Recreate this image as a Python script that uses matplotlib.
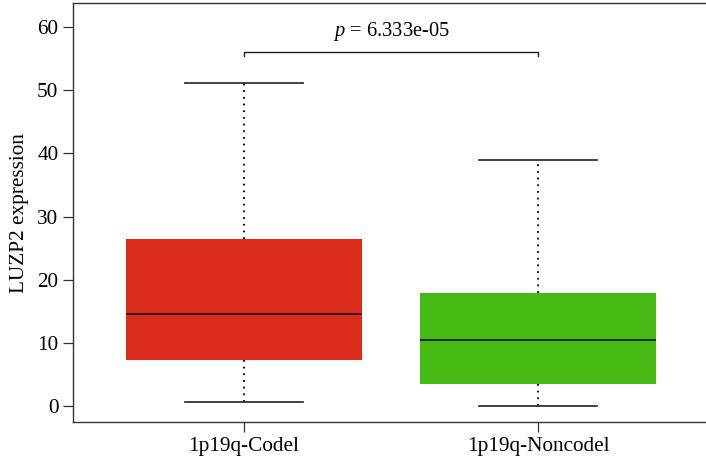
import matplotlib
matplotlib.use("Agg")
import matplotlib.pyplot as plt

plt.rcParams['font.family'] = ['Liberation Serif', 'DejaVu Serif']
plt.rcParams['mathtext.fontset'] = 'custom'
plt.rcParams['mathtext.rm'] = 'Liberation Serif'
plt.rcParams['mathtext.it'] = 'Liberation Serif:italic'

categories = ["1p19q-Codel", "1p19q-Noncodel"]
whisker_low = [0.6, 0.0]
q1 = [7.35, 3.5]
median = [14.6, 10.45]
q3 = [26.45, 17.9]
whisker_high = [51.1, 39.0]
colors = ["#DB2C1B", "#46BA13"]
p_label = "6.333e-05"
ylabel = "LUZP2 expression"
yticks = [0, 10, 20, 30, 40, 50, 60]

fig = plt.figure(figsize=(7.06, 4.62), dpi=100)
ax = fig.add_axes([73/706, 1-422.3/462, (709-73)/706, (422.3-3)/462])

stats = []
for i in range(len(categories)):
    stats.append(dict(med=median[i], q1=q1[i], q3=q3[i],
                      whislo=whisker_low[i], whishi=whisker_high[i],
                      fliers=[], label=categories[i]))

bp = ax.bxp(stats, positions=[1, 2], widths=0.8, patch_artist=True,
            showfliers=False, capwidths=0.4,
            boxprops=dict(linewidth=0),
            medianprops=dict(color="#1a1a1a", linewidth=1.3),
            whiskerprops=dict(color="black", linewidth=1.3, linestyle=(0, (1, 2.7))),
            capprops=dict(color="#222222", linewidth=1.2))
for patch, c in zip(bp['boxes'], colors):
    patch.set_facecolor(c)
    patch.set_edgecolor(c)
for w in bp['whiskers']:
    w.set_zorder(1)

ax.set_xlim(0.42, 2.58)
ax.set_ylim(-2.58, 63.8)
ax.set_yticks(yticks)
ax.set_xticks([1, 2])
ax.set_xticklabels(categories)
ax.tick_params(axis='both', labelsize=15.3, length=7, width=0.9, color="#333333", pad=3.5)
ax.set_ylabel(ylabel, fontsize=15.3, labelpad=6)

for s in ['left', 'top', 'bottom']:
    ax.spines[s].set_linewidth(1.0)
    ax.spines[s].set_color("#333333")
ax.spines['right'].set_visible(False)

# significance bracket
yb = 56.0
drop = 0.6
ax.plot([1, 1, 2, 2], [yb - drop, yb, yb, yb - drop], color="#222222", linewidth=1.0)
ax.text(1.5, 58.6, r"$p$ = " + p_label, ha='center', va='baseline', fontsize=14.8)

fig.savefig("out.png", dpi=100)
